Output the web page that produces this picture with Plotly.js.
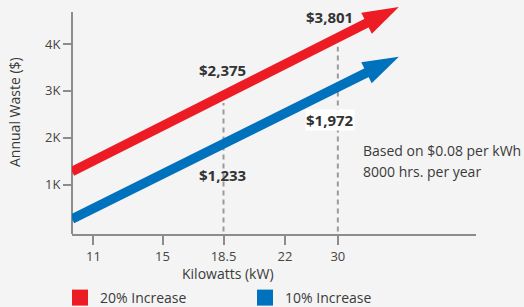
<!DOCTYPE html>
<html>
<head>
<meta charset="utf-8">
<script src="https://cdn.plot.ly/plotly-3.0.1.min.js"></script>
<style>html,body{margin:0;padding:0;background:#f4f4f4;}#chart{width:524px;height:307px;}</style>
</head>
<body>
<div id="chart"></div>
<script>
// ---- data ----
const kwTickText = ['11', '15', '18.5', '22', '30'];
const kwTickPos = [5.3, 22.4, 37.5, 52.7, 65.8];
const yTickVals = [1000, 2000, 3000, 4000];
const yTickText = ['1K', '2K', '3K', '4K'];
const seriesNames = ['20% Increase', '10% Increase'];
const redLineX = [0, 80.9];
const redLineY = [1280, 4790];
const blueLineX = [0, 80.9];
const blueLineY = [270, 3730];
const markedKw = ['18.5', '30'];
const redValues = [2375, 3801];
const blueValues = [1233, 1972];
const guideTops = [2740, 3940];
const redLabelY = [3446, 4576];
const blueLabelY = [1207, 2380];
const noteLines = ['Based on $0.08 per kWh', '8000 hrs. per year'];

const RED = '#ed1c24', BLUE = '#0071bc', AXIS = '#8c8c8c';
const FONT = 'Open Sans, sans-serif';
const Y_RANGE = [-51, 4853];
const Y_AXIS_TOP = 4682;
const fmt = v => '$' + v.toLocaleString('en-US');
const posOf = k => kwTickPos[kwTickText.indexOf(k)];

const traces = [];
// dashed guide lines
markedKw.forEach((k, i) => {
  traces.push({type: 'scatter', mode: 'lines', x: [posOf(k), posOf(k)], y: [0, guideTops[i]],
    line: {color: '#9a9a9a', width: 2, dash: '5px,4px'}, showlegend: false, hoverinfo: 'skip'});
});
// arrow lines
[[redLineX, redLineY, RED], [blueLineX, blueLineY, BLUE]].forEach(([x, y, c]) => {
  traces.push({type: 'scatter', mode: 'lines+markers', x: x, y: y,
    line: {color: c, width: 9.5},
    marker: {symbol: 'arrow', angleref: 'previous', size: [0, 38], opacity: 1, color: c, line: {width: 0}},
    showlegend: false, hoverinfo: 'skip'});
});
// legend swatches
[[seriesNames[0], RED], [seriesNames[1], BLUE]].forEach(([n, c]) => {
  traces.push({type: 'scatter', mode: 'markers', x: [null], y: [null], name: n,
    marker: {symbol: 'square', size: 16, color: c}});
});

const annotations = [];
markedKw.forEach((k, i) => {
  annotations.push({xref: 'x', yref: 'y', x: posOf(k), y: redLabelY[i], text: '<b>' + fmt(redValues[i]) + '</b>',
    showarrow: false, xshift: i === 0 ? -1 : -8, font: {family: FONT, size: 15, color: '#333'}});
  annotations.push({xref: 'x', yref: 'y', x: posOf(k), y: blueLabelY[i], text: '<b>' + fmt(blueValues[i]) + '</b>',
    showarrow: false, xshift: i === 0 ? -1 : -8, bgcolor: i === 1 ? '#ffffff' : 'rgba(0,0,0,0)', borderpad: 0,
    font: {family: FONT, size: 15, color: '#333'}});
});
// paper coords: plot area spans x 72..476 px, y 4..234 px
annotations.push({xref: 'paper', yref: 'paper', x: 0.7153, y: 0.3609, xanchor: 'left', yanchor: 'middle',
  text: noteLines[0], showarrow: false, font: {family: FONT, size: 14, color: '#3a3a3a'}});
annotations.push({xref: 'paper', yref: 'paper', x: 0.7153, y: 0.2696, xanchor: 'left', yanchor: 'middle',
  text: noteLines[1], showarrow: false, font: {family: FONT, size: 14, color: '#3a3a3a'}});
// axis titles
annotations.push({xref: 'paper', yref: 'paper', x: 0.3861, y: -0.1696, xanchor: 'center', yanchor: 'middle',
  text: 'Kilowatts (kW)', showarrow: false, font: {family: FONT, size: 14, color: '#3a3a3a'}});
annotations.push({xref: 'paper', yref: 'paper', x: -0.1436, y: 0.5304, xanchor: 'center', yanchor: 'middle',
  text: 'Annual Waste ($)', textangle: -90, showarrow: false, font: {family: FONT, size: 14, color: '#3a3a3a'}});

const layout = {
  width: 524, height: 307,
  margin: {l: 72, r: 48, t: 4, b: 73},
  paper_bgcolor: '#f4f4f4', plot_bgcolor: 'rgba(0,0,0,0)',
  font: {family: FONT, color: '#444'},
  xaxis: {range: [0, 100], tickvals: kwTickPos, ticktext: kwTickText, showgrid: false, zeroline: false,
    showline: true, linecolor: AXIS, linewidth: 2, ticks: 'outside', ticklen: 9, tickwidth: 2,
    tickcolor: AXIS, tickfont: {family: FONT, size: 13, color: '#444'}, fixedrange: true},
  yaxis: {range: Y_RANGE, tickvals: yTickVals, ticktext: yTickText, showgrid: false, zeroline: false,
    showline: false, ticks: 'outside', ticklen: 8, tickwidth: 2,
    tickcolor: AXIS, tickfont: {family: FONT, size: 13, color: '#444'}, fixedrange: true},
  shapes: [{type: 'line', xref: 'paper', yref: 'y', x0: 0, x1: 0, y0: Y_RANGE[0], y1: Y_AXIS_TOP,
    line: {color: AXIS, width: 2}, layer: 'below'}],
  showlegend: true,
  legend: {orientation: 'h', xref: 'container', yref: 'container', x: 60 / 524, xanchor: 'left',
    y: 1 - 282 / 307, yanchor: 'top',
    entrywidth: 140, entrywidthmode: 'pixels', bgcolor: 'rgba(0,0,0,0)',
    font: {family: FONT, size: 14, color: '#3a3a3a'}},
  annotations: annotations
};

Plotly.newPlot('chart', traces, layout, {displayModeBar: false, staticPlot: true});
</script>
</body>
</html>
